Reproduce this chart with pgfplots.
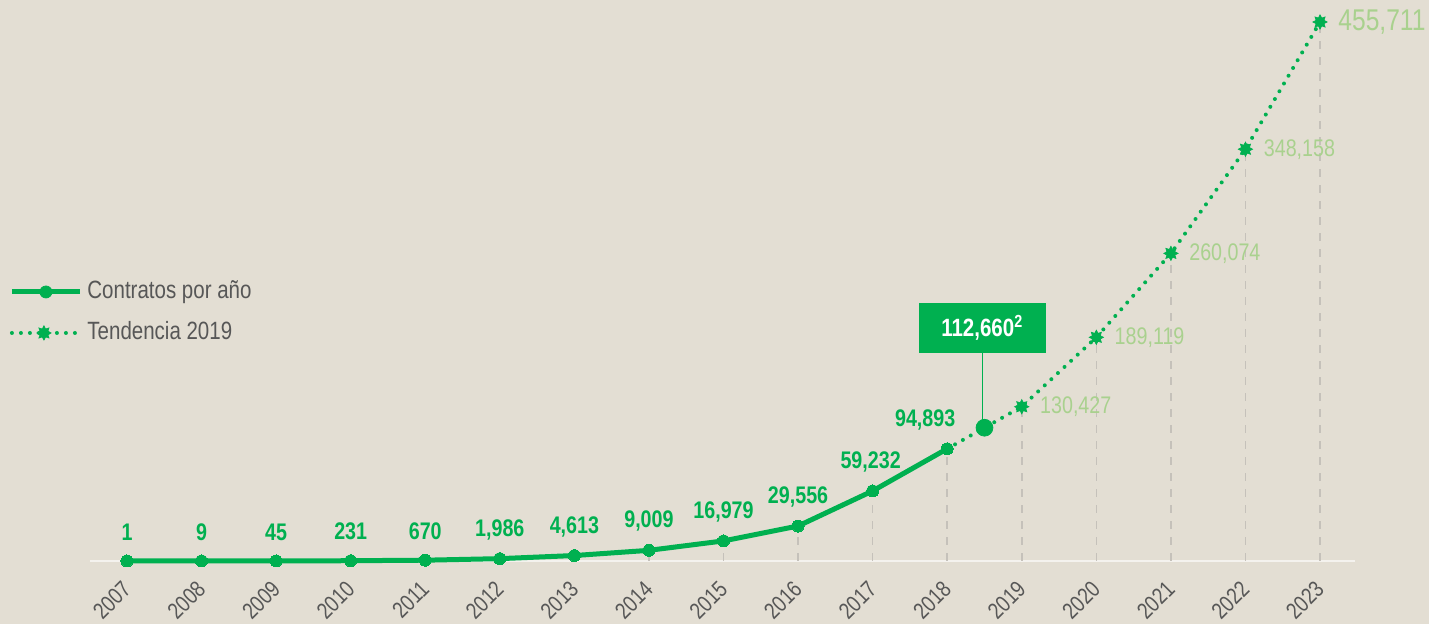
\documentclass[border=0pt]{standalone}
\usepackage{fontspec}
\setmainfont{Liberation Sans}[FakeStretch=0.82]
\usepackage{pgfplots}
\pgfplotsset{compat=1.18}
\usetikzlibrary{plotmarks}
\definecolor{bg}{HTML}{E3DED3}
\definecolor{cgreen}{HTML}{00B050}
\definecolor{lgreen}{HTML}{A9D18E}
\definecolor{tgray}{HTML}{575757}
\definecolor{dgray}{HTML}{C5C1BA}
\definecolor{base}{HTML}{F4F2EE}
\pgfdeclareplotmark{fstar}{%
  \pgfpathmoveto{\pgfpointpolar{90}{\pgfplotmarksize}}%
  \pgfpathlineto{\pgfpointpolar{112.5}{0.6\pgfplotmarksize}}%
  \pgfpathlineto{\pgfpointpolar{135}{\pgfplotmarksize}}%
  \pgfpathlineto{\pgfpointpolar{157.5}{0.6\pgfplotmarksize}}%
  \pgfpathlineto{\pgfpointpolar{180}{\pgfplotmarksize}}%
  \pgfpathlineto{\pgfpointpolar{202.5}{0.6\pgfplotmarksize}}%
  \pgfpathlineto{\pgfpointpolar{225}{\pgfplotmarksize}}%
  \pgfpathlineto{\pgfpointpolar{247.5}{0.6\pgfplotmarksize}}%
  \pgfpathlineto{\pgfpointpolar{270}{\pgfplotmarksize}}%
  \pgfpathlineto{\pgfpointpolar{292.5}{0.6\pgfplotmarksize}}%
  \pgfpathlineto{\pgfpointpolar{315}{\pgfplotmarksize}}%
  \pgfpathlineto{\pgfpointpolar{337.5}{0.6\pgfplotmarksize}}%
  \pgfpathlineto{\pgfpointpolar{0}{\pgfplotmarksize}}%
  \pgfpathlineto{\pgfpointpolar{22.5}{0.6\pgfplotmarksize}}%
  \pgfpathlineto{\pgfpointpolar{45}{\pgfplotmarksize}}%
  \pgfpathlineto{\pgfpointpolar{67.5}{0.6\pgfplotmarksize}}%
  \pgfpathclose
  \pgfusepathqfillstroke}
\newcommand{\vl}[4]{\node[font=\bfseries\fontsize{12pt}{14pt}\selectfont, text=cgreen, anchor=center, xshift=#4, yshift=14.5pt] at (axis cs:#1,#2) {#3};}
\newcommand{\tl}[4]{\node[font=\fontsize{#4}{16pt}\selectfont, text=lgreen, anchor=west, xshift=9pt, inner sep=0pt] at (axis cs:#1,#2) {#3};}
\begin{document}
\begin{tikzpicture}
\fill[bg] (-45pt,-31.5pt) rectangle (669.5pt,280.5pt);
\begin{axis}[
  scale only axis, width=632.5pt, height=280.5pt,
  xmin=2006.504, xmax=2023.469, ymin=0, ymax=474311,
  axis x line*=bottom, axis y line=none,
  x axis line style={-, draw=base, line width=1pt},
  xtick={2007,2008,2009,2010,2011,2012,2013,2014,2015,2016,2017,2018,2019,2020,2021,2022,2023},
  xticklabels={2007,2008,2009,2010,2011,2012,2013,2014,2015,2016,2017,2018,2019,2020,2021,2022,2023},
  major tick length=0pt,
  xticklabel style={xshift=0pt, yshift=-12pt, rotate=45, anchor=east, font=\fontsize{11.5pt}{13pt}\selectfont, text=tgray, inner sep=0pt},
  clip=false,
  legend style={at={(-0.064,0.443)}, anchor=west, draw=none, fill=none, inner sep=0pt,
    nodes={inner sep=0pt, text height=9pt, text depth=2.5pt, font=\fontsize{12.5pt}{14pt}\selectfont, text=tgray},
    row sep=9pt, column sep=2.5pt},
  legend cell align=left,
]
% dashed drop lines
\addplot[ycomb, no marks, draw=dgray, line width=0.75pt, dash pattern=on 4pt off 4pt, forget plot] coordinates {
(2007,1)(2008,9)(2009,45)(2010,231)(2011,670)(2012,1986)(2013,4613)(2014,9009)(2015,16979)(2016,29556)(2017,59232)(2018,94893)
(2019,130427)(2020,189119)(2021,260074)(2022,348158)(2023,455711)};
% trend dotted
\addplot[no marks, draw=cgreen, line width=2pt, line cap=round, dash pattern=on 0pt off 4.5pt, forget plot] coordinates {
(2018,94893)(2018.5,112660)(2019,130427)(2020,189119)(2021,260074)(2022,348158)(2023,455711)};
\addplot[only marks, mark=fstar, mark size=3.6pt, mark options={fill=cgreen, draw=cgreen, line width=0.3pt}, forget plot] coordinates {
(2019,130427)(2020,189119)(2021,260074)(2022,348158)(2023,455711)};
% actual
\addplot[draw=cgreen, line width=2.5pt, mark=*, mark size=3pt, mark options={fill=cgreen, draw=cgreen, line width=0pt}, forget plot] coordinates {
(2007,1)(2008,9)(2009,45)(2010,231)(2011,670)(2012,1986)(2013,4613)(2014,9009)(2015,16979)(2016,29556)(2017,59232)(2018,94893)};
\addplot[only marks, mark=*, mark size=4.2pt, mark options={fill=cgreen, draw=cgreen}, forget plot] coordinates {(2018.5,112660)};
% legend
\addlegendimage{legend image code/.code={\draw[cgreen, line width=2.5pt] (0pt,0pt) -- (34pt,0pt); \fill[cgreen] (17pt,0pt) circle (3pt);}}
\addlegendentry{Contratos por año}
\addlegendimage{legend image code/.code={\draw[cgreen, line width=2pt, line cap=round, dash pattern=on 0pt off 4.5pt] (0pt,0pt) -- (34pt,0pt); \path plot[mark=fstar, mark size=3.6pt, mark options={fill=cgreen, draw=cgreen, line width=0.3pt}] coordinates {(16pt,0pt)};}}
\addlegendentry{Tendencia 2019}
% value labels
\vl{2007}{1}{1}{0pt}
\vl{2008}{9}{9}{0pt}
\vl{2009}{45}{45}{0pt}
\vl{2010}{231}{231}{0pt}
\vl{2011}{670}{670}{0pt}
\vl{2012}{1986}{1,986}{0pt}
\vl{2013}{4613}{4,613}{0pt}
\vl{2014}{9009}{9,009}{0pt}
\vl{2015}{16979}{16,979}{0pt}
\vl{2016}{29556}{29,556}{0pt}
\vl{2017}{59232}{59,232}{-1pt}
\vl{2018}{94893}{94,893}{-11pt}
% trend labels
\tl{2019}{130427}{130,427}{12pt}
\tl{2020}{189119}{189,119}{12pt}
\tl{2021}{260074}{260,074}{12pt}
\tl{2022}{348158}{348,158}{12pt}
\tl{2023}{455711}{455,711}{15pt}
% callout
\node[fill=cgreen, text=white, font=\bfseries\fontsize{12.5pt}{14pt}\selectfont, minimum width=63.5pt, minimum height=25pt, inner sep=0pt] (box) at (axis cs:2018.47,196995) {112,660\textsuperscript{2}};
\draw[cgreen, line width=0.75pt] (box.south) -- (axis cs:2018.47,112660);
\end{axis}
\pgfresetboundingbox
\useasboundingbox (-45pt,-31.5pt) rectangle (669.5pt,280.5pt);
\end{tikzpicture}
\end{document}
